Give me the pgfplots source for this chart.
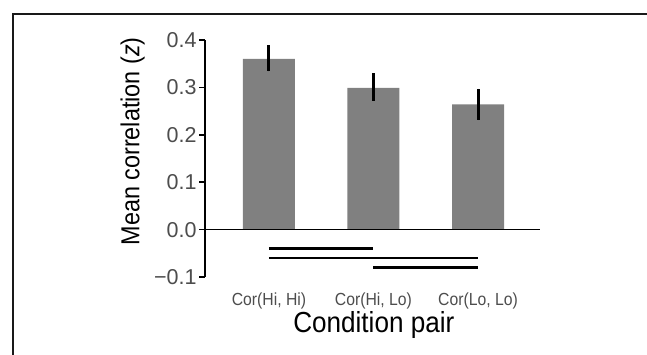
\documentclass[border=0pt]{standalone}
\usepackage{fontspec}
\setmainfont{Liberation Sans}
\newfontfamily\labfont[FakeStretch=0.9]{Liberation Sans}
\usepackage{pgfplots}
\pgfplotsset{compat=1.18}
\definecolor{barg}{RGB}{128,128,128}
\definecolor{tickg}{RGB}{77,77,77}
\begin{document}
\begin{tikzpicture}[x=1pt,y=1pt]
\draw[line width=2pt, color=black!90] (13,-5) -- (13,340) -- (652,340);
\begin{axis}[
  at={(205pt,77pt)}, anchor=south west,
  scale only axis, width=335pt, height=237pt,
  xmin=-0.612, xmax=2.593, ymin=-0.1, ymax=0.4,
  axis lines*=left,
  x axis line style={draw=none},
  y axis line style={line width=1.6pt},
  xtick={0,1,2},
  xticklabels={{Cor(Hi, Hi)},{Cor(Hi, Lo)},{Cor(Lo, Lo)}},
  major x tick style={draw=none},
  ytick={-0.1,0,0.1,0.2,0.3,0.4},
  yticklabels={−0.1,0.0,0.1,0.2,0.3,0.4},
  tick align=outside, major tick length=6pt,
  major y tick style={line width=1.6pt, black},
  yticklabel style={font=\fontsize{21.5}{25}\selectfont, text=tickg, xshift=1pt},
  xticklabel style={font=\labfont\fontsize{17.5}{20}\selectfont, text=tickg, anchor=base, yshift=-22pt},
  ylabel={Mean correlation (\textit{z})},
  ylabel style={font=\labfont\fontsize{26}{30}\selectfont, at={(axis description cs:-0.216,0.572)}, anchor=center},
  xlabel={Condition pair},
  xlabel style={font=\labfont\fontsize{29}{33}\selectfont, at={(axis description cs:0.504,-0.234)}, anchor=base},
  clip=false,
]
\addplot[ybar, bar width=52pt, fill=barg, draw=none,
  error bars/.cd, y dir=both, y explicit, error mark=none,
  error bar style={line width=3pt, black}]
  table[x=x, y=y, y error plus=ep, y error minus=em] {
x y ep em
0 0.360 0.029 0.026
1 0.299 0.031 0.027
2 0.264 0.033 0.033
};
\addplot[line width=1.6pt, black] coordinates {(-0.612,0) (2.593,0)};
\addplot[line width=2.6pt, black] coordinates {(0,-0.04) (1,-0.04)};
\addplot[line width=2.6pt, black] coordinates {(0,-0.06) (2,-0.06)};
\addplot[line width=2.6pt, black] coordinates {(1,-0.08) (2,-0.08)};
\end{axis}
\pgfresetboundingbox
\path[use as bounding box] (0,0) rectangle (647,354);
\end{tikzpicture}
\end{document}
